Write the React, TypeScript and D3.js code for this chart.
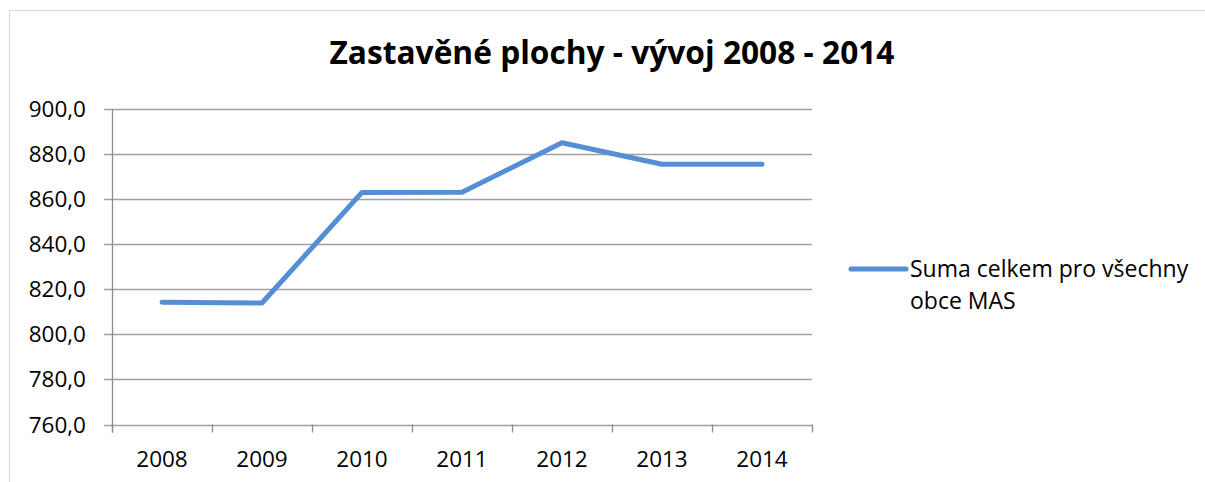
import { useEffect, useRef } from "react";
import * as d3 from "d3";

const years = ["2008", "2009", "2010", "2011", "2012", "2013", "2014"];
const values = [814.2, 813.9, 863.0, 863.1, 885.0, 875.5, 875.5];
const yTicks = [760, 780, 800, 820, 840, 860, 880, 900];
const seriesName = ["Suma celkem pro všechny", "obce MAS"];
const title = "Zastavěné plochy - vývoj 2008 - 2014";

const LINE_COLOR = "#558ed5";
const FONT = "'Open Sans', 'Liberation Sans', sans-serif";

export default function App() {
  const svgRef = useRef<SVGSVGElement>(null);

  useEffect(() => {
    if (!svgRef.current) return;
    const svg = d3.select(svgRef.current);
    svg.selectAll("*").remove();

    const width = 1205;
    const height = 482;
    const plot = { left: 112, right: 812, top: 109, bottom: 424.5 };

    svg.attr("width", width).attr("height", height);

    // chart frame
    svg
      .append("rect")
      .attr("x", 9.5)
      .attr("y", 10.5)
      .attr("width", width + 20)
      .attr("height", height + 20)
      .attr("fill", "#fff")
      .attr("stroke", "#d9d9d9")
      .attr("stroke-width", 1);

    // title
    svg
      .append("text")
      .attr("x", 612)
      .attr("y", 64)
      .attr("text-anchor", "middle")
      .attr("font-family", FONT)
      .attr("font-weight", "bold")
      .attr("font-size", "31.7px")
      .attr("fill", "#000")
      .text(title);

    const x = d3
      .scaleBand<string>()
      .domain(years)
      .range([plot.left, plot.right]);

    const y = d3
      .scaleLinear()
      .domain([760, 900])
      .range([plot.bottom, plot.top]);

    const fmt = (v: number) => d3.format(".1f")(v).replace(".", ",");

    // horizontal gridlines + y ticks
    yTicks.forEach((t) => {
      const yy = Math.round(y(t)) + 0.5;
      svg
        .append("line")
        .attr("x1", plot.left - 8)
        .attr("x2", plot.right)
        .attr("y1", yy)
        .attr("y2", yy)
        .attr("stroke", "#a0a0a0")
        .attr("stroke-width", 1.3);
      svg
        .append("text")
        .attr("x", 86)
        .attr("y", yy)
        .attr("dy", "0.35em")
        .attr("text-anchor", "end")
        .attr("font-family", FONT)
        .attr("font-size", "22.5px")
        .attr("fill", "#000")
        .text(fmt(t));
    });

    // left axis line
    svg
      .append("line")
      .attr("x1", plot.left + 0.5)
      .attr("x2", plot.left + 0.5)
      .attr("y1", plot.top)
      .attr("y2", plot.bottom + 8)
      .attr("stroke", "#8c8c8c")
      .attr("stroke-width", 1.3);

    // x category ticks
    const bounds = [...years.map((d) => x(d) ?? 0), plot.right];
    bounds.forEach((bx) => {
      svg
        .append("line")
        .attr("x1", Math.round(bx) + 0.5)
        .attr("x2", Math.round(bx) + 0.5)
        .attr("y1", plot.bottom)
        .attr("y2", plot.bottom + 8)
        .attr("stroke", "#8c8c8c")
        .attr("stroke-width", 1.3);
    });

    // x labels
    years.forEach((yr) => {
      svg
        .append("text")
        .attr("x", (x(yr) ?? 0) + x.bandwidth() / 2)
        .attr("y", 467)
        .attr("text-anchor", "middle")
        .attr("font-family", FONT)
        .attr("font-size", "22.5px")
        .attr("fill", "#000")
        .text(yr);
    });

    // series line
    const line = d3
      .line<number>()
      .x((_, i) => (x(years[i]) ?? 0) + x.bandwidth() / 2)
      .y((d) => y(d));

    svg
      .append("path")
      .datum(values)
      .attr("d", line)
      .attr("fill", "none")
      .attr("stroke", LINE_COLOR)
      .attr("stroke-width", 5)
      .attr("stroke-linecap", "round")
      .attr("stroke-linejoin", "round");

    // legend
    const legend = svg.append("g").attr("transform", "translate(851, 269)");
    legend
      .append("line")
      .attr("x1", 0)
      .attr("x2", 55)
      .attr("y1", 0)
      .attr("y2", 0)
      .attr("stroke", LINE_COLOR)
      .attr("stroke-width", 5)
      .attr("stroke-linecap", "round");
    seriesName.forEach((s, i) => {
      legend
        .append("text")
        .attr("x", 59)
        .attr("y", 8 + i * 32)
        .attr("font-family", FONT)
        .attr("font-size", "23px")
        .attr("fill", "#000")
        .text(s);
    });
  }, []);

  return (
    <div style={{ position: "absolute", left: 0, top: 0 }}>
      <svg ref={svgRef} style={{ display: "block" }} />
    </div>
  );
}
